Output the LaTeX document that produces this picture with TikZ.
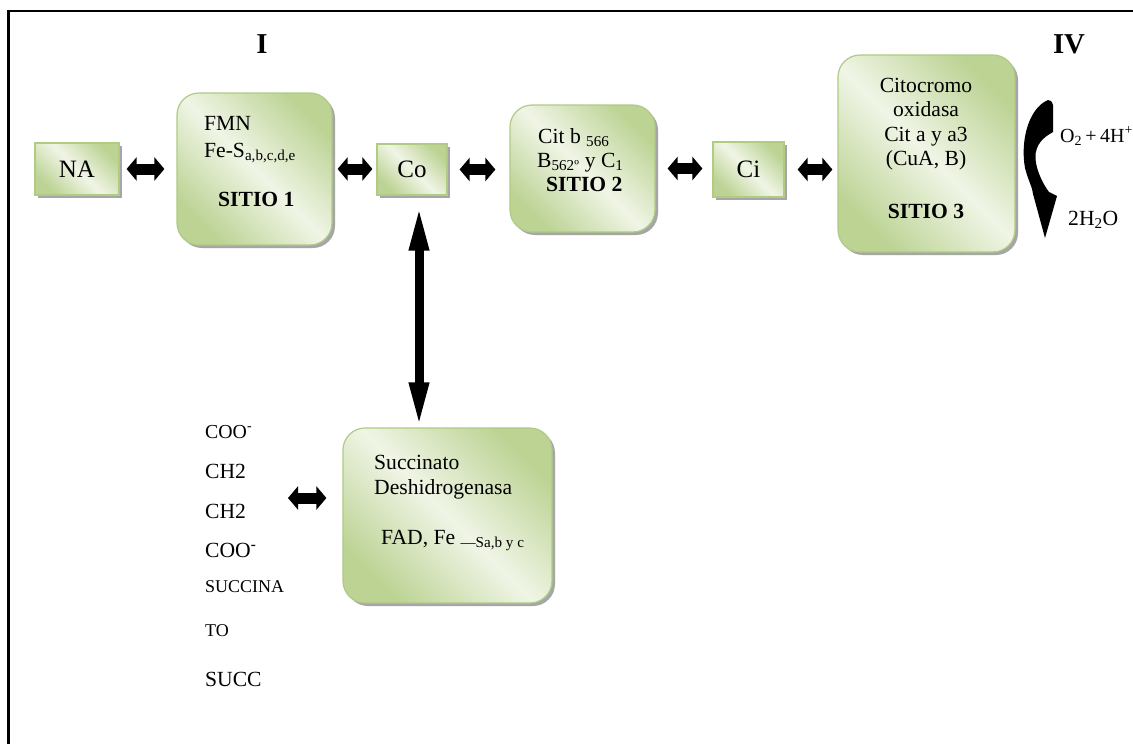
\documentclass[tikz,border=0pt]{standalone}
\usepackage{fontspec}
\setmainfont{Liberation Serif}
\usetikzlibrary{arrows.meta,shadows}
\definecolor{gdark}{HTML}{BCD394}
\definecolor{glight}{HTML}{F0F5E6}
\definecolor{gborder}{HTML}{AFCB84}
\pgfdeclarehorizontalshading{boxshade}{100bp}{color(0bp)=(gdark); color(25bp)=(gdark); color(50bp)=(glight); color(75bp)=(gdark); color(100bp)=(gdark)}
\begin{document}
\begin{tikzpicture}[x=1pt,y=-1pt,
  gbox/.style={draw=gborder, line width=1.2pt, shade, shading=boxshade, shading angle=45,
    drop shadow={shadow xshift=3pt, shadow yshift=-3pt, fill=gray!70, opacity=1}, inner sep=0pt},
  rbox/.style={gbox, rounded corners=22pt},
  big/.style={font=\fontsize{25}{27}\selectfont},
  txt/.style={inner sep=0pt, font=\fontsize{21.6}{24.8}\selectfont},
  btxt/.style={inner sep=0pt, font=\fontsize{21.6}{24.8}\selectfont\bfseries},
  smalltxt/.style={inner sep=0pt, font=\fontsize{18}{20}\selectfont},
  roman/.style={inner sep=0pt, font=\fontsize{28.8}{30}\selectfont\bfseries},
  dbl/.style={line width=11pt, {Triangle[length=10pt,width=23pt]}-{Triangle[length=10pt,width=23pt]}},
  vdbl/.style={line width=9pt, {Triangle[length=45pt,width=18pt]}-{Triangle[length=45pt,width=18pt]}},
]
\useasboundingbox (0,0) rectangle (1133,744);
\fill[white] (0,0) rectangle (1133,744);
\draw[line width=2.5pt] (8.5,750) -- (8.5,11) -- (1140,11);

% roman numerals
\node[roman, anchor=base] (r1) at (262,53) {I};
\node[roman, anchor=base] (r4) at (1069,53) {IV};

% boxes
\node[gbox, big, minimum width=84pt, minimum height=52pt] (NA) at (77,169) {NA};
\node[rbox, minimum width=155pt, minimum height=152pt] (FMN) at (254.5,169) {};
\node[gbox, big, minimum width=70pt, minimum height=51pt] (Co) at (412,169.5) {Co};
\node[rbox, minimum width=145pt, minimum height=127pt] (CitB) at (582.5,168.5) {};
\node[gbox, big, minimum width=71pt, minimum height=55pt] (Ci) at (748.5,169.5) {Ci};
\node[rbox, minimum width=177pt, minimum height=197pt] (Cito) at (926.5,153.5) {};
\node[rbox, minimum width=209pt, minimum height=175pt] (Succ) at (447.5,515.5) {};

% texts in FMN
\node[txt, anchor=base west] (fmn1) at (204,130) {FMN};
\node[txt, anchor=base west] (fmn2) at (204,157) {Fe-S\textsubscript{a,b,c,d,e}};
\node[btxt, anchor=base west] (fmn3) at (218,206) {SITIO 1};

% texts in CitB
\node[txt, anchor=base west] (cb1) at (538,143) {Cit b \textsubscript{566}};
\node[txt, anchor=base west] (cb2) at (537,167) {B\textsubscript{562º} y C\textsubscript{1}};
\node[btxt, anchor=base west] (cb3) at (546,191) {SITIO 2};

% texts in Cito
\node[txt, anchor=base] (ct1) at (926,92) {Citocromo};
\node[txt, anchor=base] (ct2) at (926,116) {oxidasa};
\node[txt, anchor=base] (ct3) at (926,141) {Cit a y a3};
\node[txt, anchor=base] (ct4) at (926,165) {(CuA, B)};
\node[btxt, anchor=base] (ct5) at (926,218) {SITIO 3};

% texts in Succ
\node[txt, anchor=base west] (sd1) at (374,469) {Succinato};
\node[txt, anchor=base west] (sd2) at (374,494) {Deshidrogenasa};
\node[txt, anchor=base west] (sd3) at (381,544) {FAD, Fe \textsubscript{—Sa,b y c}};

% succinate column
\node[inner sep=0pt, anchor=base west, font=\fontsize{19.8}{22}\selectfont] (l1) at (205,438) {COO\textsuperscript{-}};
\node[txt, anchor=base west] (l2) at (205,478) {CH2};
\node[txt, anchor=base west] (l3) at (205,518) {CH2};
\node[txt, anchor=base west] (l4) at (205,557) {COO\textsuperscript{\textbf{-}}};
\node[smalltxt, anchor=base west] (l5) at (205,592) {SUCCINA};
\node[smalltxt, anchor=base west] (l6) at (205,636) {TO};
\node[txt, anchor=base west] (l7) at (205,686) {SUCC};

% right side
\node[inner sep=0pt, anchor=base west, font=\fontsize{20}{22}\selectfont] (o2) at (1060,142) {O\textsubscript{2}\,+\,4H\textsuperscript{+}};
\node[txt, anchor=base west] (h2o) at (1068,225) {2H\textsubscript{2}O};
\fill (1048,100) .. controls (1029,108) and (1020,140) .. (1025,168)
  .. controls (1028,180) and (1032,186) .. (1033,194) -- (1045,238) -- (1057,196) -- (1049,192)
  .. controls (1040,180) and (1032,160) .. (1037,148)
  .. controls (1041,138) and (1050,134) .. (1053,132) -- (1053,105)
  .. controls (1052,101) and (1050,100) .. (1048,100) -- cycle;

% connectors
\draw[dbl, shorten <=7pt, shorten >=12pt] (NA) -- (NA -| FMN.west);
\draw[dbl, shorten <=5pt, shorten >=4pt] (FMN) -- (FMN -| Co.west);
\draw[dbl, shorten <=12pt, shorten >=14pt] (Co) -- (Co -| CitB.west);
\draw[dbl, shorten <=12pt, shorten >=10pt] (CitB) -- (CitB -| Ci.west);
\draw[dbl, shorten <=13pt, shorten >=5pt] (Ci) -- (Ci -| Cito.west);
\coordinate (s6) at (288,498);
\draw[dbl, shorten >=16pt] (s6) -- (s6 -| Succ.west);
\draw[vdbl, shorten <=10pt] ([xshift=7pt]Co.south) -- ([xshift=7pt]Co.south |- Succ.north);
\end{tikzpicture}
\end{document}
